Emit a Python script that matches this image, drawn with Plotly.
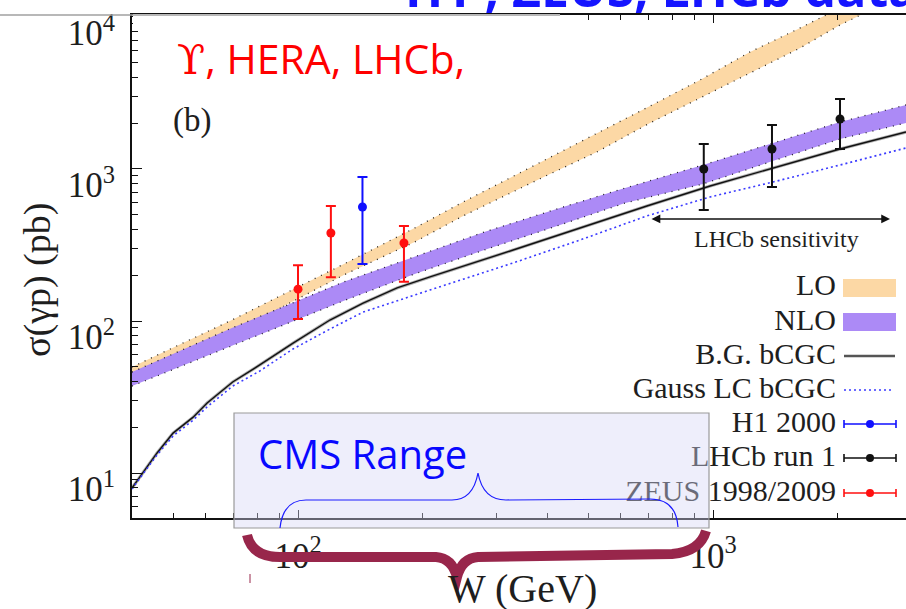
import math
import plotly.graph_objects as go

# ---------------- theory predictions: sigma(gamma p -> Upsilon p) vs W ----------------
W_LO = [39.8, 69.3, 129, 191, 250, 310, 400, 525, 705, 931, 1228, 1622, 2023, 2918]
LO_hi = [49.8, 101.5, 237, 409, 607, 821, 1164, 1698, 2594, 3853, 5888, 8472, 11460, 18880]
LO_lo = [40.9, 83.4, 201, 331, 491, 654, 914, 1294, 2009, 2931, 4285, 6252, 8855, 14390]

W_NLO = [39.8, 69.3, 129, 191, 281, 435, 614, 946, 1395, 2023, 2918]
NLO_hi = [46.1, 90.0, 181, 264, 385, 562, 750, 1062, 1483, 2037, 2636]
NLO_lo = [37.3, 68.5, 136, 204, 293, 435, 597, 797, 1129, 1575, 2009]

W_BG = [39.8, 41.6, 45.7, 50.0, 55.9, 60.4, 69.6, 80.9, 97.3, 119.4, 143.5, 173.3,
        208, 330, 478, 693, 984, 1395, 2023, 2918]
BG = [7.96, 9.42, 13.5, 18.3, 23.3, 28.9, 39.7, 51.4, 71.6, 101.5, 131, 165,
      195, 293, 409, 571, 773, 1015, 1354, 1750]

W_GLC = [39.8, 45.7, 50.0, 55.9, 60.4, 69.6, 80.9, 97.3, 119.4, 143.5, 208, 330,
         478, 693, 984, 1395, 2023, 2918]
GLC = [7.85, 13.1, 17.5, 22.3, 27.2, 37.3, 46.9, 65.5, 88.5, 114.5, 160, 241,
       341, 491, 655, 821, 1062, 1375]

# ---------------- measurements ----------------
W_ZEUS = [100, 120, 180]
S_ZEUS = [162, 379, 326]
S_ZEUS_up = [233, 571, 422]
S_ZEUS_dn = [103, 194, 181]

W_H1 = [143]
S_H1 = [562]
S_H1_up = [885]
S_H1_dn = [237]

W_LHCB = [950, 1387, 2023]
S_LHCB = [1000, 1354, 2134]
S_LHCB_up = [1460, 1946, 2890]
S_LHCB_dn = [537, 762, 1354]

# LHCb sensitivity window (GeV) and the level it is drawn at (pb)
W_SENS = [705, 2670]
S_SENS = 469

X_TICKS = [100, 1000]
X_TICKTEXT = ["10<sup>2</sup>", "10<sup>3</sup>"]
X_MINOR = [40, 50, 60, 70, 80, 90, 200, 300, 400, 500, 600, 700, 800, 900, 2000]
Y_TICKS = [10, 100, 1000, 10000]
Y_TICKTEXT = ["10<sup>1</sup>", "10<sup>2</sup>", "10<sup>3</sup>", "10<sup>4</sup>"]
Y_MINOR = [6, 7, 8, 9, 20, 30, 40, 50, 60, 70, 80, 90, 200, 300, 400, 500, 600, 700,
           800, 900, 2000, 3000, 4000, 5000, 6000, 7000, 8000, 9000]

LEGEND_ROWS = ["LO", "NLO", "B.G. bCGC", "Gauss LC bCGC", "H1 2000", "LHCb run 1", "ZEUS 1998/2009"]

# ---------------- layout geometry (pixels) ----------------
FIG_W, FIG_H = 906, 609
PL, PR, PT, PB = 132, 906, 15, 518


def px(x):
    return (x - PL) / (PR - PL)


def py(y):
    return (PB - y) / (PB - PT)


def path(cmds):
    out = []
    for c in cmds:
        if isinstance(c, str):
            out.append(c)
        else:
            out.append(f"{px(c[0]):.5f},{py(c[1]):.5f}")
    return " ".join(out)


SERIF = "Liberation Serif"
SANS = "Open Sans"
INK = "#1e1e1e"
LO_COL = "rgba(252,216,165,1)"
NLO_COL = "rgba(172,138,246,1)"
EDGE_DASH = "1px,6px"
EDGE_COL = "rgba(0,0,0,0.85)"

fig = go.Figure()

# LO band
fig.add_trace(go.Scatter(x=W_LO, y=LO_lo, mode="lines",
                         line=dict(color=EDGE_COL, width=1.3, dash=EDGE_DASH),
                         hoverinfo="skip", showlegend=False))
fig.add_trace(go.Scatter(x=W_LO, y=LO_hi, mode="lines", fill="tonexty", fillcolor=LO_COL,
                         line=dict(color=EDGE_COL, width=1.3, dash=EDGE_DASH),
                         hoverinfo="skip", showlegend=False))
# NLO band
fig.add_trace(go.Scatter(x=W_NLO, y=NLO_lo, mode="lines",
                         line=dict(color=EDGE_COL, width=1.3, dash=EDGE_DASH),
                         hoverinfo="skip", showlegend=False))
fig.add_trace(go.Scatter(x=W_NLO, y=NLO_hi, mode="lines", fill="tonexty", fillcolor=NLO_COL,
                         line=dict(color=EDGE_COL, width=1.3, dash=EDGE_DASH),
                         hoverinfo="skip", showlegend=False))

# bCGC curves
fig.add_trace(go.Scatter(x=W_BG, y=BG, mode="lines",
                         line=dict(color="rgba(120,120,120,0.6)", width=3.2),
                         hoverinfo="skip", showlegend=False))
fig.add_trace(go.Scatter(x=W_BG, y=BG, mode="lines",
                         line=dict(color="#111111", width=1.4),
                         hoverinfo="skip", showlegend=False))
fig.add_trace(go.Scatter(x=W_GLC, y=GLC, mode="lines",
                         line=dict(color="#3b3bff", width=1.6, dash="2px,3px"),
                         hoverinfo="skip", showlegend=False))


def data_trace(W, S, up, dn, color):
    return go.Scatter(
        x=W, y=S, mode="markers",
        marker=dict(color=color, size=9),
        error_y=dict(type="data", symmetric=False,
                     array=[u - s for u, s in zip(up, S)],
                     arrayminus=[s - d for s, d in zip(S, dn)],
                     color=color, thickness=2, width=5),
        hoverinfo="skip", showlegend=False)


fig.add_trace(data_trace(W_ZEUS, S_ZEUS, S_ZEUS_up, S_ZEUS_dn, "#ff1010"))
fig.add_trace(data_trace(W_H1, S_H1, S_H1_up, S_H1_dn, "#1010ff"))
fig.add_trace(data_trace(W_LHCB, S_LHCB, S_LHCB_up, S_LHCB_dn, "#111111"))

# ---------------- legend (text left, key right), drawn on a pixel overlay axis ----------------
row_y = [287, 322, 356, 390, 424, 458, 493]
fig.add_trace(go.Scatter(x=[836] * len(LEGEND_ROWS), y=row_y, xaxis="x2", yaxis="y2",
                         mode="text", text=LEGEND_ROWS, textposition="middle left",
                         textfont=dict(family=SERIF, size=30, color=INK),
                         hoverinfo="skip", showlegend=False))
for yy, col in zip(row_y[4:], ["#1010ff", "#111111", "#ff1010"]):
    fig.add_trace(go.Scatter(x=[870], y=[yy], xaxis="x2", yaxis="y2", mode="markers",
                             marker=dict(color=col, size=8),
                             error_x=dict(type="constant", value=26, color=col, thickness=1.6, width=4),
                             hoverinfo="skip", showlegend=False))

shapes = [
    dict(type="rect", xref="x2", yref="y2", x0=843, x1=896, y0=279, y1=297,
         fillcolor=LO_COL, line=dict(width=0), layer="below"),
    dict(type="rect", xref="x2", yref="y2", x0=843, x1=896, y0=313, y1=331,
         fillcolor=NLO_COL, line=dict(width=0), layer="below"),
    dict(type="line", xref="x2", yref="y2", x0=844, x1=895, y0=356, y1=356,
         line=dict(color="#555555", width=2.5)),
    dict(type="line", xref="x2", yref="y2", x0=844, x1=892, y0=390, y1=390,
         line=dict(color="#3b3bff", width=1.5, dash="2px,3px")),
    # top frame: grey on the left (without ticks), black on the right
    dict(type="rect", xref="paper", yref="paper", x0=px(133), x1=px(560), y0=py(14), y1=py(25),
         fillcolor="white", line=dict(width=0), layer="above"),
    dict(type="line", xref="paper", yref="paper", x0=px(0), x1=px(560), y0=py(15), y1=py(15),
         line=dict(color="#a0a0a0", width=1.5), layer="above"),
    # CMS range box
    dict(type="rect", xref="paper", yref="paper", x0=px(234), x1=px(709), y0=py(528), y1=py(413),
         fillcolor="rgba(214,214,246,0.42)", line=dict(color="#9a9a9a", width=1.2), layer="above"),
    # thin blue brace inside the box
    dict(type="path", xref="paper", yref="paper", layer="above",
         path=path(["M", (280, 528), "Q", (283, 500), (306, 500), "L", (452, 500),
                    "Q", (473, 500), (478, 473), "Q", (483, 500), (506, 500), "L", (650, 499),
                    "Q", (676, 499), (678, 527)]),
         line=dict(color="#1a1aff", width=1.2)),
    # thick maroon brace under the axis
    dict(type="path", xref="paper", yref="paper", layer="above",
         path=path(["M", (247, 535), "Q", (252, 557), (280, 557), "L", (436, 557),
                    "Q", (452, 558), (457, 577), "Q", (462, 558), (478, 557), "L", (672, 554),
                    "Q", (700, 552), (706, 531)]),
         line=dict(color="#98264b", width=10)),
    dict(type="line", xref="paper", yref="paper", x0=px(250), x1=px(250), y0=py(574), y1=py(583),
         line=dict(color="#98264b", width=1), layer="above"),
]

annotations = [
    # LHCb sensitivity double arrow (log axes take log10 positions)
    dict(x=math.log10(W_SENS[1]), y=math.log10(S_SENS),
         ax=math.log10(W_SENS[0]), ay=math.log10(S_SENS),
         xref="x", yref="y", axref="x", ayref="y", text="", showarrow=True,
         arrowhead=2, startarrowhead=2, arrowside="end+start", arrowsize=1.1,
         startarrowsize=1.1, arrowwidth=1.6, arrowcolor="#111111"),
    dict(x=px(776), y=py(239), xref="paper", yref="paper", xanchor="center", yanchor="middle",
         text="LHCb sensitivity", showarrow=False, font=dict(family=SERIF, size=24, color=INK)),
    dict(x=px(175), y=py(58), xref="paper", yref="paper", xanchor="left", yanchor="middle",
         text="<span style=\"font-family:'DejaVu Serif'\">ϒ</span>, HERA, LHCb,",
         showarrow=False, font=dict(family=SANS, size=41, color="#ff0000")),
    dict(x=px(171), y=py(120), xref="paper", yref="paper", xanchor="left", yanchor="middle",
         text="(b)", showarrow=False, font=dict(family=SERIF, size=33, color=INK)),
    dict(x=px(403), y=py(24), xref="paper", yref="paper", xanchor="left", yanchor="bottom",
         text="<b>H1 , ZEUS, LHCb data</b>", showarrow=False,
         font=dict(family=SANS, size=50, color="#1515ff")),
    dict(x=px(256), y=py(453), xref="paper", yref="paper", xanchor="left", yanchor="middle",
         text="CMS Range", showarrow=False, font=dict(family=SANS, size=40, color="#0808ff")),
    dict(x=px(522), y=py(588), xref="paper", yref="paper", xanchor="center", yanchor="middle",
         text="W (GeV)", showarrow=False, font=dict(family=SERIF, size=40, color=INK)),
    dict(x=px(37), y=py(280), xref="paper", yref="paper", xanchor="center", yanchor="middle",
         text="σ(γp) (pb)", textangle=-90,
         showarrow=False, font=dict(family=SERIF, size=38, color=INK)),
]

fig.update_layout(
    width=FIG_W, height=FIG_H,
    margin=dict(l=PL, r=FIG_W - PR, t=PT, b=FIG_H - PB, pad=0, autoexpand=False),
    paper_bgcolor="white", plot_bgcolor="white",
    showlegend=False,
    xaxis=dict(type="log", range=[1.6, 3.465], showgrid=False, zeroline=False, automargin=False,
               showline=True, linecolor="#111111", linewidth=2, mirror="ticks",
               ticks="inside", ticklen=8, tickwidth=1.3, tickcolor="#111111",
               tickmode="array", tickvals=X_TICKS, ticktext=X_TICKTEXT,
               ticklabelstandoff=6, ticklabeloverflow="allow",
               tickfont=dict(family=SERIF, size=35, color=INK),
               minor=dict(ticks="inside", ticklen=5, tickwidth=1.1, tickcolor="#111111",
                          tickmode="array", tickvals=X_MINOR, showgrid=False)),
    yaxis=dict(type="log", range=[0.704, 4.013], showgrid=False, zeroline=False, automargin=False,
               showline=True, linecolor="#111111", linewidth=2, mirror=False,
               ticks="inside", ticklen=10, tickwidth=1.3, tickcolor="#111111",
               tickmode="array", tickvals=Y_TICKS, ticktext=Y_TICKTEXT,
               ticklabelstandoff=8, ticklabelshift=16, ticklabeloverflow="allow",
               tickfont=dict(family=SERIF, size=35, color=INK),
               minor=dict(ticks="inside", ticklen=6, tickwidth=1.1, tickcolor="#111111",
                          tickmode="array", tickvals=Y_MINOR, showgrid=False)),
    xaxis2=dict(overlaying="x", anchor="y2", range=[PL, PR], visible=False, fixedrange=True,
                automargin=False),
    yaxis2=dict(overlaying="y", anchor="x2", range=[PB, PT], visible=False, fixedrange=True,
                automargin=False),
    shapes=shapes,
    annotations=annotations,
)

fig.write_html("out.html")
